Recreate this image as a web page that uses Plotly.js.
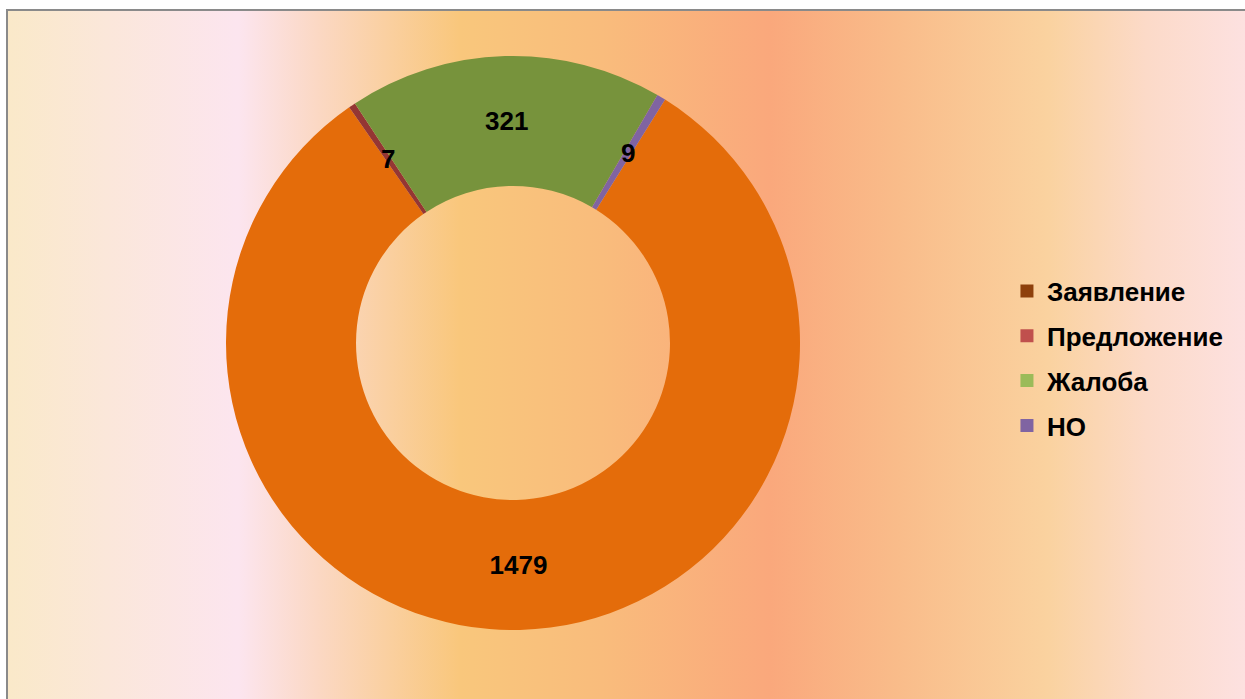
<!DOCTYPE html>
<html>
<head>
<meta charset="utf-8">
<script src="https://cdn.plot.ly/plotly-3.0.1.min.js"></script>
<style>
  html, body { margin: 0; padding: 0; background: #ffffff; }
  #frame {
    position: absolute; left: 6px; top: 9px; width: 1239px; height: 690px;
    box-sizing: border-box;
    border-top: 2px solid #8a8a8a; border-left: 2px solid #8a8a8a;
    background: linear-gradient(to right,
      #FAE9C9 0%, #FBE7DA 8%, #FCE5EF 18.6%, #FBD8C4 25%, #F9C77C 36.5%,
      #F9BC7C 48%, #FAA87C 61.6%, #F9BC8A 72%, #FAD29F 84%, #FCDAC8 92%, #FDE1E0 100%);
  }
  #chart { position: absolute; left: 0; top: 0; width: 1245px; height: 699px; }
</style>
</head>
<body>
<div id="frame"></div>
<div id="chart"></div>
<script>
const categories = ["Заявление", "Предложение", "Жалоба", "НО"];
const values = [1479, 7, 321, 9];
const sliceColors = ["#E46C0A", "#943634", "#77933C", "#8064A2"];
const legendColors = ["#8E400C", "#C0504D", "#9BBB59", "#8064A2"];

const FONT = "Arial, 'Liberation Sans', sans-serif";
const W = 1245, H = 699;
const ROTATION = 32, HOLE = 0.547;
const DOMAIN = { x: [0.1815, 0.6426], y: [0.0987, 0.9199] };

// slices too thin for Plotly's inside text get their value placed as a label
// at the middle of the ring, at the slice's own angle (computed from the data)
const total = values.reduce((a, b) => a + b, 0);
const thin = values.map(v => v / total < 0.02);

const pie = {
  type: "pie",
  labels: categories,
  values: values,
  sort: false,
  direction: "clockwise",
  rotation: ROTATION,
  hole: HOLE,
  marker: { colors: sliceColors, line: { width: 0 } },
  texttemplate: values.map((v, i) => thin[i] ? "" : "%{value}"),
  textposition: "inside",
  insidetextorientation: "horizontal",
  textfont: { family: FONT, size: 26, color: "#000000", weight: "bold" },
  showlegend: false,
  hoverinfo: "label+value",
  domain: DOMAIN
};

// ring geometry (same as Plotly uses: radius = half the smaller domain side)
const cxPx = (DOMAIN.x[0] + DOMAIN.x[1]) / 2 * W;
const cyPx = H - (DOMAIN.y[0] + DOMAIN.y[1]) / 2 * H;
const rPx = Math.min((DOMAIN.x[1] - DOMAIN.x[0]) * W, (DOMAIN.y[1] - DOMAIN.y[0]) * H) / 2;
const rMid = rPx * (1 + HOLE) / 2;

const annotations = [];
let acc = 0;
values.forEach((v, i) => {
  const midDeg = ROTATION + (acc + v / 2) / total * 360; // clockwise from 12 o'clock
  acc += v;
  if (!thin[i]) return;
  const a = midDeg * Math.PI / 180;
  const xPx = cxPx + rMid * Math.sin(a);
  const yPx = cyPx - rMid * Math.cos(a);
  annotations.push({
    xref: "paper", yref: "paper",
    x: xPx / W, y: 1 - yPx / H,
    xanchor: "center", yanchor: "middle",
    text: String(v), showarrow: false,
    font: { family: FONT, size: 26, color: "#000000", weight: "bold" }
  });
});

const legendTraces = categories.map((c, i) => ({
  type: "scatter",
  mode: "markers",
  x: [null], y: [null],
  name: c,
  legendgroup: "g" + i,
  marker: { symbol: "square", size: 13, color: legendColors[i] },
  showlegend: true,
  hoverinfo: "skip"
}));

const layout = {
  width: W, height: H,
  margin: { l: 0, r: 0, t: 0, b: 0 },
  paper_bgcolor: "rgba(0,0,0,0)",
  plot_bgcolor: "rgba(0,0,0,0)",
  xaxis: { visible: false },
  yaxis: { visible: false },
  uniformtext: { mode: "show", minsize: 26 },
  annotations: annotations,
  showlegend: true,
  legend: {
    x: 0.8088, xanchor: "left",
    y: 0.487, yanchor: "middle",
    tracegroupgap: 8,
    bgcolor: "rgba(0,0,0,0)",
    font: { family: FONT, size: 26, color: "#000000", weight: "bold" }
  }
};

Plotly.newPlot("chart", [pie].concat(legendTraces), layout, { displayModeBar: false, staticPlot: true });
</script>
</body>
</html>
